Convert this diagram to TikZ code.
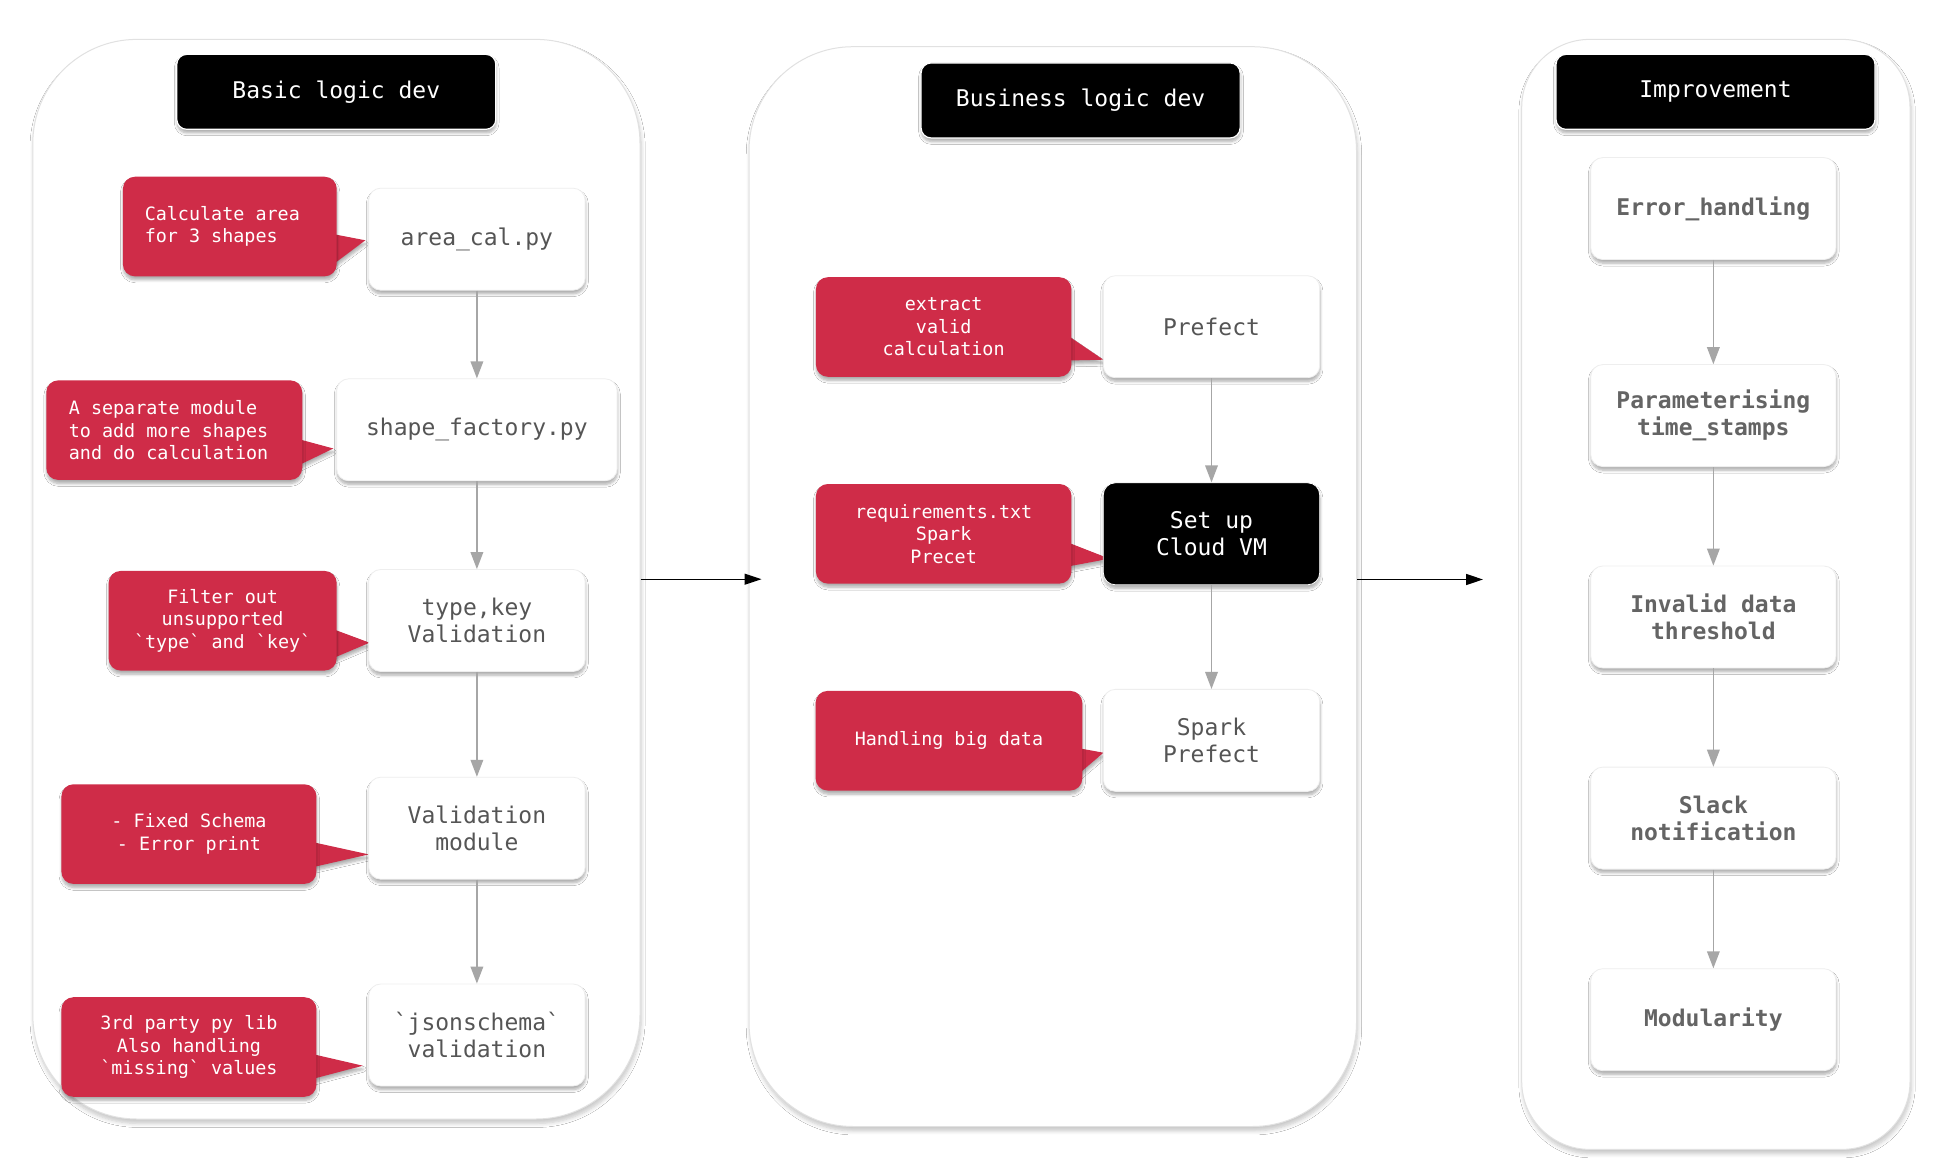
\documentclass[tikz,border=0pt]{standalone}
\usepackage{fontspec}
\setmonofont{DejaVu Sans Mono}
\usetikzlibrary{arrows.meta,shadows,shadows.blur}

\definecolor{calloutred}{RGB}{207,44,72}
\definecolor{boxtext}{RGB}{85,85,85}
\definecolor{imptext}{RGB}{100,100,100}
\definecolor{flowgray}{RGB}{166,166,166}
\definecolor{frameline}{RGB}{225,225,225}
\definecolor{boxline}{RGB}{238,238,238}

\newcommand\notefont{\ttfamily\fontsize{9.2}{11.2}\selectfont}
\newcommand\boxfont{\ttfamily\fontsize{11.5}{13.4}\selectfont}

\tikzset{
  soft/.style={blur shadow={shadow xshift=0.2pt, shadow yshift=-1.8pt, shadow blur radius=1.4pt,
    shadow blur steps=6, shadow opacity=32}},
  panel/.style={draw=frameline, line width=0.5pt, fill=white, rounded corners=52pt, inner sep=0pt,
    blur shadow={shadow xshift=0.6pt, shadow yshift=-2.2pt, shadow blur radius=2pt,
    shadow blur steps=6, shadow opacity=22}},
  header/.style={fill=black, draw=white, line width=0.6pt, rounded corners=5pt, text=white,
    font=\boxfont, minimum width=159.5pt, minimum height=37.5pt, inner sep=0pt, soft},
  stepbox/.style={fill=white, draw=boxline, line width=0.4pt, rounded corners=6pt, text=boxtext,
    font=\boxfont, align=center, minimum width=108.2pt, minimum height=51pt, inner sep=0pt, soft},
  darkbox/.style={stepbox, fill=black, draw=white, text=white},
  impbox/.style={stepbox, text=imptext, font=\boxfont\bfseries, minimum width=122.6pt},
  note/.style={fill=calloutred, rounded corners=6pt, text=white, font=\notefont, align=center,
    minimum height=49.8pt, inner sep=0pt, soft},
  tail/.style={fill=calloutred, soft},
  flow/.style={draw=flowgray, line width=0.75pt, -{Triangle[length=8.5pt,width=6.3pt]}},
  stage/.style={draw=black, line width=0.7pt, -{Triangle[length=8.5pt,width=5.5pt]}},
}

\begin{document}
\begin{tikzpicture}[x=0.5pt, y=-0.5pt]
\useasboundingbox (0,0) rectangle (1948,1176);
\fill[white] (0,0) rectangle (1948,1176);

% ---------- the three stage panels ----------
\node[panel, minimum width=303.6pt, minimum height=539.8pt] (lc) at (336.4,579.2) {};
\node[panel, minimum width=303.75pt, minimum height=539.9pt] (mc) at (1052.75,586.6) {};
\node[panel, rounded corners=34pt, minimum width=194.15pt, minimum height=555pt] (rc) at (1715.85,594.4) {};

% ---------- speech-bubble tails (drawn under the note bodies) ----------
\fill[tail] (333.7,234.2) -- (365.3,240.3) -- (333.7,264) -- cycle;
\fill[tail] (299.2,439.3) -- (333.3,448.5) -- (299.2,465) -- cycle;
\fill[tail] (333.7,629.4) -- (369.5,642.7) -- (333.7,657.9) -- cycle;
\fill[tail] (313.5,842.3) -- (368.7,854.4) -- (313.5,867) -- cycle;
\fill[tail] (313.5,1054.3) -- (362.8,1065.7) -- (313.5,1078.7) -- cycle;
\fill[tail] (1068.4,336) -- (1103.3,359.7) -- (1068.4,360.5) -- cycle;
\fill[tail] (1068.4,542.7) -- (1109.4,558.7) -- (1068.4,566.4) -- cycle;
\fill[tail] (1079.3,748.3) -- (1103.4,752.7) -- (1079.3,773.3) -- cycle;

% ---------- Basic logic dev ----------
\node[header] (t1) at (336.3,91.85) {Basic logic dev};

\node[stepbox] (b1) at (476.9,239.2) {area\_cal.py};
\node[stepbox, minimum width=140.2pt] (b2) at (476.9,429.8) {shape\_factory.py};
\node[stepbox] (b3) at (476.9,620.5) {type,key\\Validation};
\node[stepbox] (b4) at (476.9,828.2) {Validation\\module};
\node[stepbox] (b5) at (476.9,1035) {`jsonschema`\\validation};

\node[note, minimum width=106.9pt, align=left] (c1) at (229.8,226.55)
  {Calculate area\hspace*{7.5pt}\\for 3 shapes};
\node[note, minimum width=128pt, align=left] (c2) at (174.25,430.15)
  {A separate module\\to add more shapes\\and do calculation\hspace*{5.7pt}};
\node[note, minimum width=114pt] (c3) at (222.65,620.75) {Filter out\\unsupported\\`type` and `key`};
\node[note, minimum width=127.5pt] (c4) at (188.95,834.1) {- Fixed Schema\\- Error print};
\node[note, minimum width=127.5pt] (c5) at (188.95,1047) {3rd party py lib\\Also handling\\`missing` values};

\draw[flow] (b1.south) -- (b2.north);
\draw[flow] (b2.south) -- (b3.north);
\draw[flow] (b3.south) -- (b4.north);
\draw[flow] (b4.south) -- (b5.north);

% ---------- Business logic dev ----------
\node[header] (t2) at (1080.6,100.45) {Business logic dev};

\node[stepbox] (m1) at (1211.5,326.75) {Prefect};
\node[darkbox] (m2) at (1211.5,533.8) {Set up\\Cloud VM};
\node[stepbox] (m3) at (1211.5,740.35) {Spark\\Prefect};

\node[note, minimum width=127.75pt] (d1) at (943.65,327) {extract\\valid\\calculation};
\node[note, minimum width=127.75pt] (d2) at (943.65,533.8) {requirements.txt\\Spark\\Precet};
\node[note, minimum width=133.35pt] (d3) at (948.95,740.7) {Handling big data};

\draw[flow] (m1.south) -- (m2.north);
\draw[flow] (m2.south) -- (m3.north);

% ---------- Improvement ----------
\node[header] (t3) at (1715.5,91.85) {Improvement};

\node[impbox] (r1) at (1713.35,208.6) {Error\_handling};
\node[impbox] (r2) at (1713.35,415.6) {Parameterising\\time\_stamps};
\node[impbox] (r3) at (1713.35,617) {Invalid data\\threshold};
\node[impbox] (r4) at (1713.35,818.1) {Slack\\notification};
\node[impbox] (r5) at (1713.35,1019.7) {Modularity};

\draw[flow] (r1.south) -- (r2.north);
\draw[flow] (r2.south) -- (r3.north);
\draw[flow] (r3.south) -- (r4.north);
\draw[flow] (r4.south) -- (r5.north);

% ---------- stage-to-stage arrows ----------
\coordinate (s2) at (1483,579.5);
\draw[stage] (lc.east) -- ([xshift=6.5pt]lc.east -| mc.west);
\draw[stage] (mc.east |- s2) -- (s2);
\end{tikzpicture}
\end{document}
